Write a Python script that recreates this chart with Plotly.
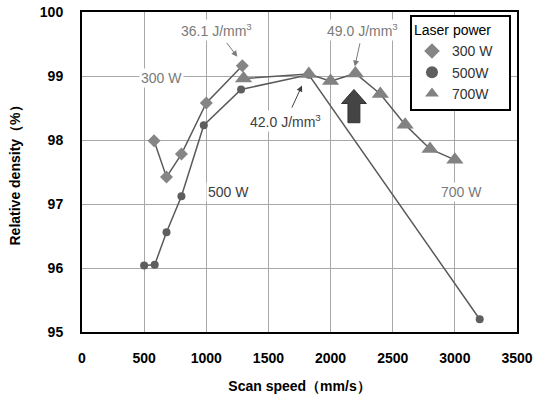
import plotly.graph_objects as go

# Data
speed_300 = [580, 680, 800, 1000, 1290]
dens_300 = [97.99, 97.42, 97.78, 98.58, 99.16]

speed_500 = [500, 585, 680, 800, 980, 1280, 1825, 3200]
dens_500 = [96.04, 96.05, 96.56, 97.12, 98.23, 98.79, 99.02, 95.2]

speed_700 = [1300, 1825, 2000, 2200, 2400, 2600, 2800, 3000]
dens_700 = [98.96, 99.03, 98.92, 99.04, 98.72, 98.24, 97.86, 97.69]

x_ticks = [0, 500, 1000, 1500, 2000, 2500, 3000, 3500]
y_ticks = [95, 96, 97, 98, 99, 100]

LINE = "#5a5a5a"
FONT = "Liberation Sans, Arial, sans-serif"

series = [
    ("300 W", speed_300, dens_300, dict(symbol="diamond", size=10, color="#858585")),
    ("500W", speed_500, dens_500, dict(symbol="circle", size=8, color="#5e5e5e")),
    ("700W", speed_700, dens_700, dict(symbol="triangle-up", size=15, color="#828282")),
]

fig = go.Figure()
for name, xs, ys, mk in series:
    fig.add_trace(go.Scatter(x=xs, y=ys, mode="lines+markers", name=name,
                             line=dict(color=LINE, width=1.5), marker=mk,
                             showlegend=False, legendgroup=name))
for name, xs, ys, mk in series:
    fig.add_trace(go.Scatter(x=[None], y=[None], mode="markers", name=name,
                             marker=mk, showlegend=True, legendgroup=name))

gray_t = "#7a7a7a"
dark_t = "#404040"
anns = [
    dict(text="36.1 J/mm<sup>3</sup>", color=gray_t, ax=1085, ay=99.72, tx=1250, ty=99.3),
    dict(text="49.0 J/mm<sup>3</sup>", color=gray_t, ax=2260, ay=99.72, tx=2195, ty=99.15),
    dict(text="42.0 J/mm<sup>3</sup>", color=dark_t, ax=1640, ay=98.3, tx=1770, ty=98.85),
]
for a in anns:
    fig.add_annotation(x=a["tx"], y=a["ty"], ax=a["ax"], ay=a["ay"], axref="x", ayref="y",
                       text=a["text"], showarrow=True, arrowhead=2, arrowsize=1.2,
                       arrowwidth=1, arrowcolor=a["color"], startstandoff=3,
                       font=dict(size=14, color=a["color"], family=FONT),
                       bgcolor="white")

for txt, xx, yy, col in [("300 W", 640, 98.97, gray_t), ("500 W", 1180, 97.18, dark_t),
                         ("700 W", 3050, 97.18, gray_t)]:
    fig.add_annotation(x=xx, y=yy, text=txt, showarrow=False, bgcolor="white",
                       font=dict(size=14, color=col, family=FONT))

# Big up arrow
ax0 = 2188
fig.add_shape(type="path", xref="x", yref="y",
              path=f"M {ax0-48},98.27 L {ax0+48},98.27 L {ax0+48},98.57 L {ax0+100},98.57 "
                   f"L {ax0},98.79 L {ax0-100},98.57 L {ax0-48},98.57 Z",
              fillcolor="#444444", line=dict(color="#333333", width=1))

fig.update_layout(
    width=538, height=396,
    margin=dict(l=82, r=21, t=12, b=64, autoexpand=False),
    plot_bgcolor="white", paper_bgcolor="white",
    font=dict(family=FONT, color="black"),
    showlegend=True,
    legend=dict(x=0.754, y=0.99, xanchor="left", yanchor="top",
                bgcolor="white", bordercolor="black", borderwidth=2,
                title=dict(text="Laser power&nbsp;&nbsp;&nbsp;&nbsp;", font=dict(size=14, color="black")),
                font=dict(size=14, color="#333333"), itemsizing="constant",
                tracegroupgap=0, itemwidth=30),
    xaxis=dict(range=[0, 3500], tickvals=x_ticks, ticks="", automargin=False,
               showgrid=True, gridcolor="#a8a8a8", gridwidth=1,
               showline=True, linecolor="black", linewidth=2, mirror=True,
               zeroline=False, ticklabelstandoff=12,
               tickfont=dict(size=14, color="black", family=FONT, weight="bold"),
               title=dict(text="Scan speed（mm/s）", font=dict(size=14, weight="bold"), standoff=16)),
    yaxis=dict(range=[95, 100], tickvals=y_ticks, ticks="", automargin=False,
               showgrid=True, gridcolor="#a8a8a8", gridwidth=1,
               showline=True, linecolor="black", linewidth=2, mirror=True,
               zeroline=False, ticklabelstandoff=14,
               tickfont=dict(size=14, color="black", family=FONT, weight="bold"),
               title=dict(text="Relative density（%）", font=dict(size=14, weight="bold"), standoff=16)),
)

fig.write_html("out.html", post_script="document.body.style.margin='0';",
               config={"displayModeBar": False})
